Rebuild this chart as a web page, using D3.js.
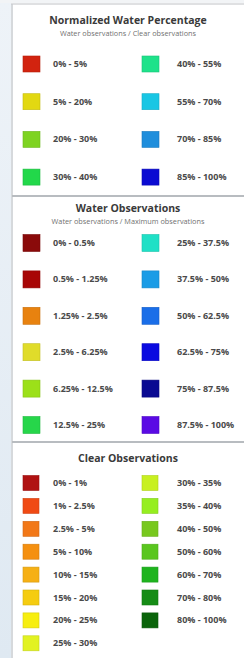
<!DOCTYPE html>
<html>
<head>
<meta charset="utf-8">
<script src="https://cdn.jsdelivr.net/npm/d3@7"></script>
<style>
  body { margin: 0; background: #fff; }
  svg { display: block; font-family: "Open Sans", sans-serif; }
</style>
</head>
<body>
<svg id="chart" width="244" height="658"></svg>
<script>
// legend titles
const titles = ["Normalized Water Percentage", "Water Observations", "Clear Observations"];
const subtitles = ["Water observations / Clear observations", "Water observations / Maximum observations", ""];

// class labels for each panel
const nwpLabels = ["0% - 5%", "5% - 20%", "20% - 30%", "30% - 40%",
  "40% - 55%", "55% - 70%", "70% - 85%", "85% - 100%"];
const nwpColors = ["#d2230f", "#e2d812", "#7ed321", "#22d84a",
  "#1ee28a", "#19c6e4", "#1f8edc", "#0b0bd2"];

const woLabels = ["0% - 0.5%", "0.5% - 1.25%", "1.25% - 2.5%", "2.5% - 6.25%", "6.25% - 12.5%", "12.5% - 25%",
  "25% - 37.5%", "37.5% - 50%", "50% - 62.5%", "62.5% - 75%", "75% - 87.5%", "87.5% - 100%"];
const woColors = ["#8a0a0a", "#a80606", "#e8820f", "#e0dc2a", "#9ce019", "#26d64a",
  "#1fe0c6", "#1a9ce6", "#1a6ee8", "#0a0ae0", "#0a0a92", "#5a0ae4"];

const coLabels = ["0% - 1%", "1% - 2.5%", "2.5% - 5%", "5% - 10%", "10% - 15%", "15% - 20%", "20% - 25%", "25% - 30%",
  "30% - 35%", "35% - 40%", "40% - 50%", "50% - 60%", "60% - 70%", "70% - 80%", "80% - 100%"];
const coColors = ["#b01212", "#f04a14", "#f27818", "#f59010", "#f6b014", "#f5cc10", "#f7ee10", "#e2f222",
  "#c8f020", "#96ee20", "#78c81e", "#5ac61e", "#1eb41e", "#158c15", "#0a640a"];

const svg = d3.select("#chart");
const width = +svg.attr("width");
const height = +svg.attr("height");

// left pale strip and frame
const grad = svg.append("defs").append("linearGradient")
  .attr("id", "strip").attr("x1", 0).attr("x2", 0).attr("y1", 0).attr("y2", 1);
grad.append("stop").attr("offset", 0).attr("stop-color", "#eef3f8");
grad.append("stop").attr("offset", 1).attr("stop-color", "#dfe9f2");
svg.append("rect").attr("x", 0).attr("y", 0).attr("width", 11).attr("height", height).attr("fill", "url(#strip)");
svg.append("rect").attr("x", 0).attr("y", 0).attr("width", width).attr("height", 3).attr("fill", "#f2f4f6");
svg.append("line").attr("x1", 11).attr("x2", width).attr("y1", 4).attr("y2", 4)
  .attr("stroke", "#d4d6d8").attr("stroke-width", 1.5);
svg.append("line").attr("x1", 12).attr("x2", 12).attr("y1", 4).attr("y2", height)
  .attr("stroke", "#c8ccd0").attr("stroke-width", 1.5);

// panel layout: title y, first row centre, row step, swatch size, separator below
const panels = [
  { labels: nwpLabels, colors: nwpColors, titleY: 24, subY: 36, y0: 64, step: 37.7, sw: 17, sh: 16, sep: 196 },
  { labels: woLabels, colors: woColors, titleY: 212, subY: 224, y0: 243, step: 36.4, sw: 17, sh: 17, sep: 442 },
  { labels: coLabels, colors: coColors, titleY: 462, subY: null, y0: 483, step: 22.9, sw: 16, sh: 15, sep: null }
];

const colX = d3.scaleOrdinal().domain([0, 1]).range([23, 142]);
const textX = d3.scaleOrdinal().domain([0, 1]).range([53, 177]);

panels.forEach((p, pi) => {
  const g = svg.append("g");
  const perCol = Math.ceil(p.labels.length / 2);
  const y = d3.scaleLinear().domain([0, 1]).range([p.y0, p.y0 + p.step]);
  const items = p.labels.map((label, i) => ({
    label, color: p.colors[i], col: i < perCol ? 0 : 1, row: i < perCol ? i : i - perCol
  }));

  g.append("text")
    .attr("x", 128).attr("y", p.titleY)
    .attr("text-anchor", "middle")
    .attr("font-size", 10.5).attr("font-weight", 700)
    .attr("fill", "#3a3a3a")
    .text(titles[pi]);

  if (p.subY) {
    g.append("text")
      .attr("x", 128).attr("y", p.subY)
      .attr("text-anchor", "middle")
      .attr("font-size", 7.3)
      .attr("fill", "#707070")
      .text(subtitles[pi]);
  }

  g.selectAll("rect.sw").data(items).join("rect")
    .attr("class", "sw")
    .attr("x", (d) => colX(d.col))
    .attr("y", (d) => y(d.row) - p.sh / 2)
    .attr("width", p.sw).attr("height", p.sh)
    .attr("fill", (d) => d.color)
    .attr("stroke", (d) => d3.color(d.color).darker(0.4))
    .attr("stroke-width", 0.6);

  g.selectAll("text.lb").data(items).join("text")
    .attr("class", "lb")
    .attr("x", (d) => textX(d.col))
    .attr("y", (d) => y(d.row) + 3)
    .attr("font-size", 9).attr("font-weight", 700)
    .attr("fill", "#4a4a4a")
    .text((d) => d.label);

  if (p.sep) {
    svg.append("line").attr("x1", 12).attr("x2", width).attr("y1", p.sep).attr("y2", p.sep)
      .attr("stroke", "#b8bcc0").attr("stroke-width", 2);
  }
});
</script>
</body>
</html>
